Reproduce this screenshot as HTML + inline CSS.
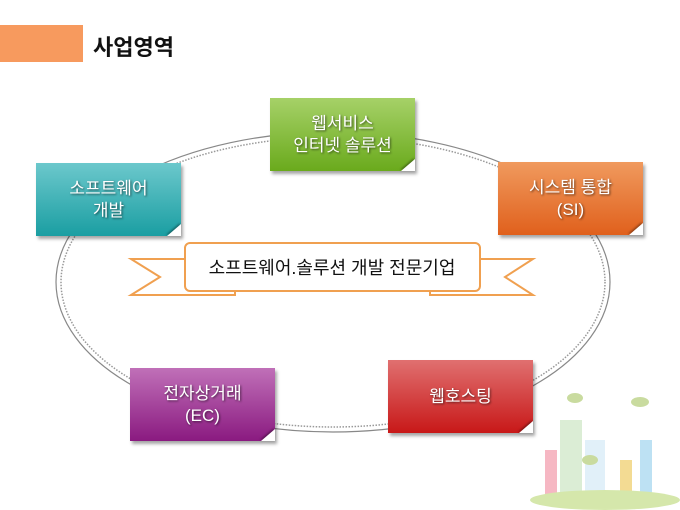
<!DOCTYPE html>
<html><head><meta charset="utf-8"><style>
body{margin:0;width:680px;height:510px;background:#fff;position:relative;overflow:hidden;font-family:"Liberation Sans","Noto Sans CJK KR",sans-serif}
.b{position:absolute;width:145px;height:73px;color:#fff;font-size:17px;line-height:22px;text-align:center;display:flex;align-items:center;justify-content:center;text-shadow:1px 1px 2px rgba(0,0,0,.6);box-shadow:2px 3px 3px rgba(0,0,0,.35)}
.b:after{content:"";position:absolute;right:0;bottom:0;border-style:solid;border-width:0 0 12px 14px;border-color:transparent transparent #fff transparent;filter:drop-shadow(-1px -1px 1px rgba(0,0,0,.4))}
</style></head><body>
<div style="position:absolute;left:0;top:25px;width:83px;height:37px;background:#f79a5e"></div>
<div style="position:absolute;left:93px;top:30px;font-size:22px;font-weight:bold;color:#111">사업영역</div>
<svg width="680" height="510" style="position:absolute;left:0;top:0">
<ellipse cx="333" cy="282" rx="277" ry="150" fill="none" stroke="#888" stroke-width="1.2"/>
<ellipse cx="333" cy="282" rx="272" ry="145" fill="none" stroke="#999" stroke-width="1.5" stroke-dasharray="1.5 1.5"/>
<g stroke="#f0a050" stroke-width="2" fill="#fff">
<polygon points="185,259 131,259 160,277 131,295 235,295 235,282 185,282"/>
<polygon points="480,259 533,259 505,277 533,295 430,295 430,282 480,282"/>
<rect x="185" y="243" width="295" height="48" rx="5"/>
</g>
<text x="332" y="274" font-size="18" text-anchor="middle" fill="#111" font-family="Liberation Sans,Noto Sans CJK KR,sans-serif">소프트웨어.솔루션 개발 전문기업</text>
<g opacity=".75">
<rect x="545" y="450" width="12" height="45" fill="#f4a0b0"/><rect x="560" y="420" width="22" height="78" fill="#cfe8c8"/>
<rect x="585" y="440" width="20" height="58" fill="#d8ecf8"/><rect x="620" y="460" width="12" height="38" fill="#f0d070"/>
<rect x="640" y="440" width="12" height="58" fill="#a8d8f0"/><ellipse cx="605" cy="500" rx="75" ry="10" fill="#c8e090"/>
<ellipse cx="575" cy="398" rx="8" ry="5" fill="#b8d080"/><ellipse cx="640" cy="402" rx="9" ry="5" fill="#b8d080"/><ellipse cx="590" cy="460" rx="8" ry="5" fill="#b8d080"/>
</g>
</svg>
<div class="b" style="left:270px;top:98px;background:linear-gradient(#a6d168,#6aaa1c)">웹서비스<br>인터넷 솔루션</div>
<div class="b" style="left:36px;top:163px;background:linear-gradient(#6cc8cc,#1a9ea2)">소프트웨어<br>개발</div>
<div class="b" style="left:498px;top:162px;background:linear-gradient(#f09a5e,#e0601c)">시스템 통합<br>(SI)</div>
<div class="b" style="left:130px;top:368px;background:linear-gradient(#c070b8,#8a1a80)">전자상거래<br>(EC)</div>
<div class="b" style="left:388px;top:360px;background:linear-gradient(#e07070,#c81818)">웹호스팅</div>
</body></html>
